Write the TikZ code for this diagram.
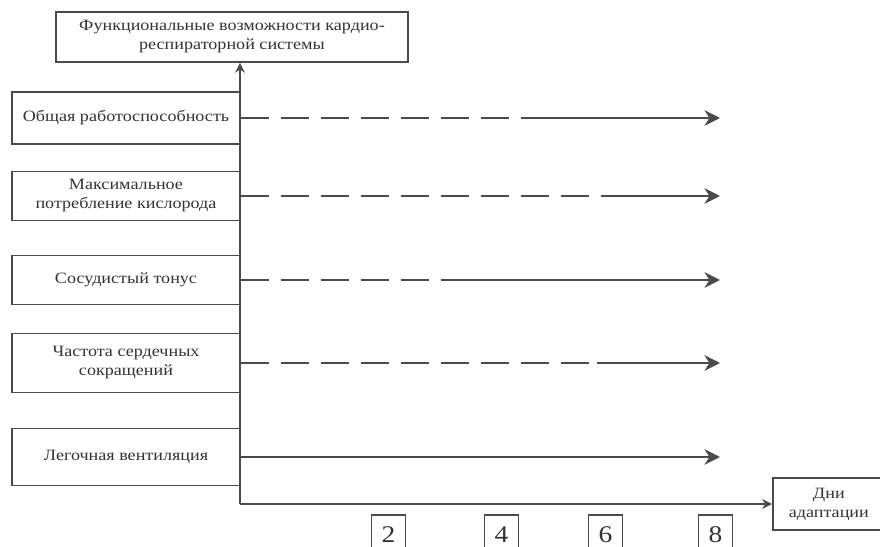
\documentclass[tikz,border=0pt]{standalone}
\usepackage{fontspec}
\setmainfont[FakeStretch=1.15]{Liberation Serif}
\usetikzlibrary{arrows.meta}
\definecolor{inkgray}{HTML}{4A4A4A}
\definecolor{textgray}{HTML}{333333}
\tikzset{
    factbox/.style={draw=inkgray, line width=1.2pt, text=textgray, align=center, minimum width=5.7cm, minimum height=1.3cm, font=\fontsize{11.2}{13.5}\selectfont},
    dasharrow/.style={-, color=inkgray, line width=2pt, dash pattern=on 0.7cm off 0.3cm},
    fullarrow/.style={-{Stealth[length=11pt,width=11pt,inset=3.5pt]}, color=inkgray, line width=2pt},
    axisarrow/.style={-{Stealth[length=7pt,width=7pt]}, color=inkgray, line width=1.5pt},
    daybox/.style={draw=inkgray, line width=1pt, text=textgray, minimum width=0.85cm, minimum height=1cm, font=\fontsize{17}{19}\selectfont}
}

\begin{document}
\begin{tikzpicture}
    \useasboundingbox (0,0) rectangle (22,13.65);

    \node[factbox, minimum width=8.8cm, minimum height=1.25cm] (0) at (5.8,12.725) {Функциональные возможности кардио-\\респираторной системы};

    \node[factbox] (1) at (3.15,10.7) {Общая работоспособность};
    \node[factbox, minimum height=1.225cm] (2) at (3.15,8.75) {Максимальное\\потребление кислорода};
    \node[factbox, minimum height=1.225cm] (3) at (3.15,6.65) {Сосудистый тонус};
    \node[factbox, minimum height=1.475cm] (4) at (3.15,4.575) {Частота сердечных\\сокращений};
    \node[factbox, minimum height=1.425cm] (5) at (3.15,2.225) {Легочная вентиляция};

    \coordinate (o) at (6.0,1.05);
    \node[factbox, anchor=west, minimum width=2.8cm] (dni) at (19.3,1.05) {Дни\\адаптации};

    \node[daybox] (d2) at (9.71,0.275) {2};
    \node[daybox] (d4) at (12.54,0.275) {4};
    \node[daybox] (d6) at (15.14,0.275) {6};
    \node[daybox] (d8) at (17.89,0.275) {8};

    \coordinate (s1) at (13.45,10.7);
    \coordinate (s2) at (15.675,8.75);
    \coordinate (s3) at (11.625,6.65);
    \coordinate (s4) at (14.925,4.575);
    \coordinate (e1) at (18,10.7);
    \coordinate (e2) at (18,8.75);
    \coordinate (e3) at (18,6.65);
    \coordinate (e4) at (18,4.575);
    \coordinate (e5) at (18,2.225);

    \path [axisarrow](o) edge (o |- 0.south);
    \path [axisarrow](o) edge (dni);

    \path [dasharrow](1) edge (s1);
    \path [fullarrow](s1) edge (e1);
    \path [dasharrow](2) edge (s2);
    \path [fullarrow](s2) edge (e2);
    \path [dasharrow](3) edge (s3);
    \path [fullarrow](s3) edge (e3);
    \path [dasharrow](4) edge (s4);
    \path [fullarrow](s4) edge (e4);
    \path [fullarrow](5) edge (e5);
\end{tikzpicture}
\end{document}
